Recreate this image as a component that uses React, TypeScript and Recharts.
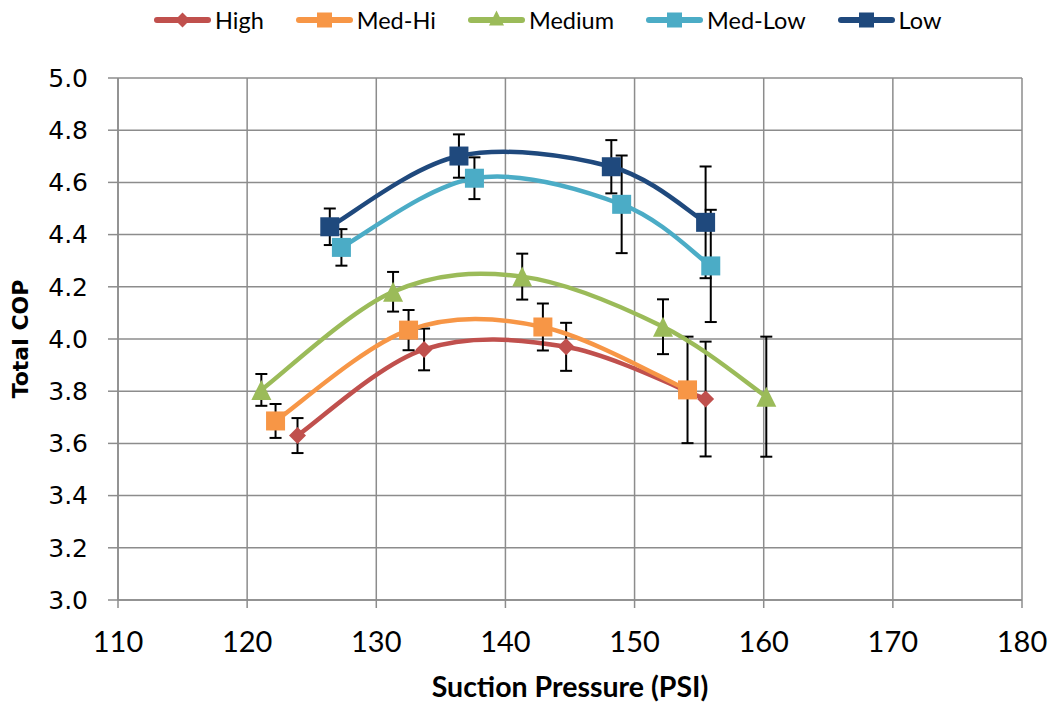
import React from "react";
import { LineChart, Line, XAxis, YAxis, CartesianGrid, ErrorBar, Label } from "recharts";

const xTicks = [110, 120, 130, 140, 150, 160, 170, 180];
const yTicks = [3.0, 3.2, 3.4, 3.6, 3.8, 4.0, 4.2, 4.4, 4.6, 4.8, 5.0];

const highPsi = [123.9, 133.7, 144.7, 155.5];
const highCop = [3.63, 3.96, 3.97, 3.77];
const highErr = [0.067, 0.08, 0.092, 0.22];

const medHiPsi = [122.2, 132.5, 142.9, 154.1];
const medHiCop = [3.686, 4.034, 4.046, 3.805];
const medHiErr = [0.065, 0.077, 0.09, 0.204];

const mediumPsi = [121.1, 131.3, 141.3, 152.2, 160.2];
const mediumCop = [3.805, 4.181, 4.239, 4.047, 3.779];
const mediumErr = [0.061, 0.076, 0.088, 0.105, 0.23];

const medLowPsi = [127.3, 137.6, 149.0, 155.9];
const medLowCop = [4.351, 4.616, 4.516, 4.28];
const medLowErr = [0.07, 0.08, 0.187, 0.215];

const lowPsi = [126.4, 136.4, 148.2, 155.5];
const lowCop = [4.43, 4.701, 4.66, 4.447];
const lowErr = [0.07, 0.083, 0.102, 0.214];

type Shape = "diamond" | "square" | "triangle";

const zip = (psi: number[], cop: number[], err: number[]) =>
  psi.map((p, i) => ({ psi: p, cop: cop[i], err: err[i] }));

const series: { name: string; color: string; shape: Shape; data: ReturnType<typeof zip> }[] = [
  { name: "High", color: "#C0504D", shape: "diamond", data: zip(highPsi, highCop, highErr) },
  { name: "Med-Hi", color: "#F79646", shape: "square", data: zip(medHiPsi, medHiCop, medHiErr) },
  { name: "Medium", color: "#9BBB59", shape: "triangle", data: zip(mediumPsi, mediumCop, mediumErr) },
  { name: "Med-Low", color: "#4BACC6", shape: "square", data: zip(medLowPsi, medLowCop, medLowErr) },
  { name: "Low", color: "#1F497D", shape: "square", data: zip(lowPsi, lowCop, lowErr) },
];

const GRID = "#8c8c8c";

// Spreadsheet-style smoothed line: cubic Bezier segments with Catmull-Rom tangents
function smoothCurve(context: any) {
  let pts: [number, number][] = [];
  return {
    areaStart() {},
    areaEnd() {},
    lineStart() {
      pts = [];
    },
    lineEnd() {
      const n = pts.length;
      if (!n) return;
      context.moveTo(pts[0][0], pts[0][1]);
      for (let i = 0; i < n - 1; i++) {
        const p0 = pts[Math.max(i - 1, 0)];
        const p1 = pts[i];
        const p2 = pts[i + 1];
        const p3 = pts[Math.min(i + 2, n - 1)];
        context.bezierCurveTo(
          p1[0] + (p2[0] - p0[0]) / 6,
          p1[1] + (p2[1] - p0[1]) / 6,
          p2[0] - (p3[0] - p1[0]) / 6,
          p2[1] - (p3[1] - p1[1]) / 6,
          p2[0],
          p2[1]
        );
      }
    },
    point(x: number, y: number) {
      pts.push([x, y]);
    },
  };
}

function Marker({ shape, cx, cy, color, s }: { shape: Shape; cx: number; cy: number; color: string; s: number }) {
  if (shape === "diamond") {
    return <polygon points={`${cx},${cy - s} ${cx + s},${cy} ${cx},${cy + s} ${cx - s},${cy}`} fill={color} />;
  }
  if (shape === "triangle") {
    return <polygon points={`${cx},${cy - s} ${cx + s},${cy + s} ${cx - s},${cy + s}`} fill={color} />;
  }
  return <rect x={cx - s} y={cy - s} width={s * 2} height={s * 2} fill={color} />;
}

const markerSize: Record<Shape, number> = { diamond: 8.5, square: 9.5, triangle: 10 };

function ChartLegend() {
  return (
    <div
      style={{
        position: "absolute",
        left: 154,
        top: 6,
        display: "flex",
        gap: 32,
        fontFamily: "Lato, 'Open Sans', sans-serif",
        fontSize: 23.5,
        lineHeight: "28px",
        color: "#000",
      }}
    >
      {series.map((s) => (
        <div key={s.name} style={{ display: "flex", alignItems: "center" }}>
          <svg width={57} height={28} style={{ marginRight: 4 }}>
            <line x1={3} y1={14} x2={54} y2={14} stroke={s.color} strokeWidth={6} strokeLinecap="round" />
            <Marker shape={s.shape} cx={28.5} cy={s.shape === "triangle" ? 12 : 14} color={s.color} s={7.5} />
          </svg>
          <span>{s.name}</span>
        </div>
      ))}
    </div>
  );
}

export default function App() {
  return (
    <div style={{ position: "absolute", left: 0, top: 0, width: 1052, height: 707, background: "#fff" }}>
      <LineChart width={1052} height={707} margin={{ top: 78, right: 30, bottom: 0, left: 0 }}>
        <CartesianGrid stroke={GRID} strokeWidth={1.5} />
        <XAxis
          type="number"
          dataKey="psi"
          domain={[110, 180]}
          ticks={xTicks}
          interval={0}
          allowDataOverflow
          height={107}
          tickSize={8}
          tickMargin={23}
          axisLine={{ stroke: GRID, strokeWidth: 1.5 }}
          tickLine={{ stroke: GRID, strokeWidth: 1.5 }}
          tick={{ fill: "#000", fontSize: 29, fontFamily: "Lato" }}
        >
          <Label
            value="Suction Pressure (PSI)"
            position="insideBottom"
            offset={10}
            style={{ fontFamily: "Lato", fontWeight: 700, fontSize: 28.5, fill: "#000" }}
          />
        </XAxis>
        <YAxis
          type="number"
          domain={[3, 5]}
          ticks={yTicks}
          interval={0}
          allowDataOverflow
          width={118}
          tickSize={10}
          tickMargin={20}
          tickFormatter={(v: number) => v.toFixed(1)}
          axisLine={{ stroke: GRID, strokeWidth: 1.5 }}
          tickLine={{ stroke: GRID, strokeWidth: 1.5 }}
          tick={{ fill: "#000", fontSize: 25, fontFamily: "DejaVu Sans" }}
        >
          <Label
            content={(props: any) => {
              const vb = props.viewBox || { x: 0, y: 78, width: 118, height: 522 };
              const cx = vb.x + 20;
              const cy = vb.y + vb.height / 2;
              return (
                <text
                  x={cx}
                  y={cy}
                  transform={`rotate(-90 ${cx} ${cy})`}
                  textAnchor="middle"
                  dominantBaseline="central"
                  style={{ fontFamily: "DejaVu Sans", fontWeight: 700, fontSize: 22, fill: "#000" }}
                >
                  Total COP
                </text>
              );
            }}
          />
        </YAxis>
        {series.map((s) => (
          <Line
            key={s.name}
            name={s.name}
            data={s.data}
            dataKey="cop"
            type={smoothCurve as any}
            stroke={s.color}
            strokeWidth={4.5}
            isAnimationActive={false}
            activeDot={false}
            dot={(p: any) => (
              <Marker
                key={`${s.name}-${p.index}`}
                shape={s.shape}
                cx={p.cx}
                cy={p.cy}
                color={s.color}
                s={markerSize[s.shape]}
              />
            )}
          >
            <ErrorBar dataKey="err" direction="y" width={6} stroke="#000" strokeWidth={2} isAnimationActive={false} />
          </Line>
        ))}
      </LineChart>
      <ChartLegend />
    </div>
  );
}
